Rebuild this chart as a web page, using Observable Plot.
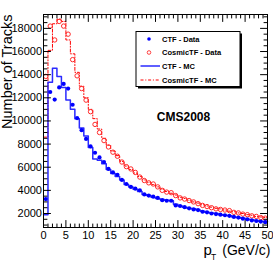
<!DOCTYPE html>
<html><head><meta charset="utf-8">
<script src="https://cdn.jsdelivr.net/npm/d3@7"></script>
<script src="https://cdn.jsdelivr.net/npm/@observablehq/plot@0.6"></script>
<style>body{margin:0;background:#fff;} #chart{position:relative;width:273px;height:262px;}</style>
</head><body><div id="chart"></div>
<script>
// pT bins: 1 GeV/c wide, from 0 to 50
const binLow = d3.range(0, 50);
const ctfData = [3250,12500,11850,12900,13200,12800,11400,10250,9200,8450,
  7800,7250,6850,6450,5850,5550,5350,4900,4550,4300,
  4150,4000,3650,3550,3450,3350,3150,3100,3100,2700,
  2650,2550,2450,2350,2300,2150,2100,2000,1950,1900,
  1850,1800,1700,1650,1550,1500,1400,1350,1300,1250];
const cosmicData = [13850,18200,17000,18600,18200,17500,15300,13900,12800,11800,
  10800,9700,9000,8300,7750,7300,6950,6450,6050,5850,
  5550,5150,4850,4650,4550,4300,4000,3850,3800,3550,
  3350,3250,3120,3000,2850,2700,2600,2500,2400,2350,
  2300,2250,2100,2050,1950,1900,1800,1750,1650,1600];
const ctfMC = [1900,13350,14550,13850,12900,11800,11000,10200,9400,8700,
  7700,6700,6600,6300,5800,5450,5200,4900,4500,4300,
  4100,3900,3650,3550,3400,3300,3200,3150,3100,2800,
  2650,2550,2450,2400,2300,2200,2100,2050,2000,1900,
  1850,1800,1700,1650,1600,1500,1450,1400,1300,1300];
const cosmicMC = [8600,16100,18400,18800,18600,17000,15800,14200,13000,12000,
  11000,10200,9300,8500,7900,7400,7000,6500,6100,5800,
  5500,5200,4900,4700,4500,4300,4100,3900,3750,3600,
  3400,3300,3150,3000,2900,2750,2650,2550,2450,2400,
  2300,2200,2150,2050,2000,1900,1850,1750,1700,1650];
const xTicks = [0,5,10,15,20,25,30,35,40,45,50];
const yTicks = [2000,4000,6000,8000,10000,12000,14000,16000,18000];
const legendLabels = ["CTF - Data","CosmicTF - Data","CTF - MC","CosmicTF - MC"];
const yTitle = "Number of Tracks";
const stampText = "CMS2008";

const pts = (arr) => arr.map((v, i) => ({x: binLow[i] + 0.5, y: v}));
const steps = (arr) => [...arr.map((v, i) => ({x: binLow[i], y: v})), {x: binLow[arr.length-1] + 1, y: arr[arr.length-1]}];

const xMinor = d3.range(0, 51, 1).filter(v => v % 5 !== 0);
const yMinor = d3.range(1000, 19001, 500).filter(v => v % 2000 !== 0);
const tickShape = {draw(ctx, l) { ctx.moveTo(0, 0); ctx.lineTo(0, -l); }};
const tk = (opts) => ({shape: tickShape, anchor: "start", stroke: "black", strokeWidth: 1, ...opts});
const dashDot = "3,1.8,1,1.8";

const plot = Plot.plot({
  width: 273, height: 262,
  marginLeft: 43, marginRight: 6, marginTop: 14, marginBottom: 35,
  style: {fontFamily: "'Liberation Sans', Arial, sans-serif", fontSize: "11px", background: "white"},
  x: {domain: [0, 50]},
  y: {domain: [790, 19200]},
  marks: [
    Plot.line(steps(cosmicMC), {x: "x", y: "y", curve: "step-after", stroke: "#ff0000", strokeWidth: 1, strokeDasharray: dashDot}),
    Plot.line(steps(ctfMC), {x: "x", y: "y", curve: "step-after", stroke: "#2a2aff", strokeWidth: 1.5}),
    Plot.dot(pts(cosmicData), {x: "x", y: "y", r: 2.2, stroke: "#ff2a2a", strokeWidth: 1, fill: "none"}),
    Plot.dot(pts(ctfData), {x: "x", y: "y", r: 2.1, fill: "#0000ff", stroke: "none"}),
    Plot.frame({stroke: "black", strokeWidth: 1}),
    // ticks inward on all four sides
    Plot.vectorX(xTicks, tk({x: d => d, frameAnchor: "bottom", length: 7, rotate: 0})),
    Plot.vectorX(xMinor, tk({x: d => d, frameAnchor: "bottom", length: 3.5, rotate: 0})),
    Plot.vectorX(xTicks, tk({x: d => d, frameAnchor: "top", length: 7, rotate: 180})),
    Plot.vectorX(xMinor, tk({x: d => d, frameAnchor: "top", length: 3.5, rotate: 180})),
    Plot.vectorY(yTicks, tk({y: d => d, frameAnchor: "left", length: 7, rotate: 90})),
    Plot.vectorY(yMinor, tk({y: d => d, frameAnchor: "left", length: 3.5, rotate: 90})),
    Plot.vectorY(yTicks, tk({y: d => d, frameAnchor: "right", length: 7, rotate: -90})),
    Plot.vectorY(yMinor, tk({y: d => d, frameAnchor: "right", length: 3.5, rotate: -90})),
    Plot.axisX(xTicks, {anchor: "bottom", tickSize: 0, tickPadding: 4, fontSize: 11, label: null, tickFormat: "d"}),
    Plot.axisY(yTicks, {anchor: "left", tickSize: 0, tickPadding: 1.5, fontSize: 11, label: null, tickFormat: "d"}),
    Plot.text([yTitle], {frameAnchor: "top-left", rotate: -90, textAnchor: "end", lineAnchor: "bottom", dx: -32, fontSize: 14.5, fill: "black"}),
    Plot.text(["p"], {frameAnchor: "bottom-right", textAnchor: "start", lineAnchor: "bottom", dx: -64, dy: 27.5, fontSize: 15, fill: "black"}),
    Plot.text(["T"], {frameAnchor: "bottom-right", textAnchor: "start", lineAnchor: "bottom", dx: -56.5, dy: 32.5, fontSize: 8.5, fill: "black"}),
    Plot.text(["(GeV/c)"], {frameAnchor: "bottom-right", textAnchor: "end", lineAnchor: "bottom", dx: 3, dy: 27.5, fontSize: 14, fill: "black"}),
    Plot.text([stampText], {frameAnchor: "top-left", textAnchor: "middle", lineAnchor: "bottom", dx: 140, dy: 106, fontSize: 12, fontWeight: "bold", fill: "black"})
  ]
});

// Legend box (ROOT style with shadow)
const svg = d3.select(plot);
const lg = svg.append("g").attr("font-family", "'Liberation Sans', Arial, sans-serif").attr("text-anchor", "start");
const bx = 136, by = 31.5, bw = 104, bh = 55;
lg.append("rect").attr("x", bx + 2).attr("y", by + 2).attr("width", bw).attr("height", bh).attr("fill", "black");
lg.append("rect").attr("x", bx).attr("y", by).attr("width", bw).attr("height", bh).attr("fill", "white").attr("stroke", "black").attr("stroke-width", 1);
const rowsY = [39, 52.5, 66, 80];
legendLabels.forEach((t, i) => {
  const cy = rowsY[i];
  lg.append("text").attr("x", 162).attr("y", cy + 2.7).attr("text-anchor", "start").attr("font-size", 7.5).attr("font-weight", "bold").attr("fill", "black").text(t);
});
lg.append("circle").attr("cx", 149).attr("cy", rowsY[0]).attr("r", 1.8).attr("fill", "#0000ff");
lg.append("circle").attr("cx", 149).attr("cy", rowsY[1]).attr("r", 1.8).attr("fill", "none").attr("stroke", "#ff2a2a").attr("stroke-width", 0.9);
lg.append("line").attr("x1", 140.5).attr("x2", 160).attr("y1", rowsY[2]).attr("y2", rowsY[2]).attr("stroke", "#2a2aff").attr("stroke-width", 1.5);
lg.append("line").attr("x1", 140.5).attr("x2", 160).attr("y1", rowsY[3]).attr("y2", rowsY[3]).attr("stroke", "#ff0000").attr("stroke-width", 1).attr("stroke-dasharray", dashDot);

document.getElementById("chart").appendChild(plot);
</script>
</body></html>
